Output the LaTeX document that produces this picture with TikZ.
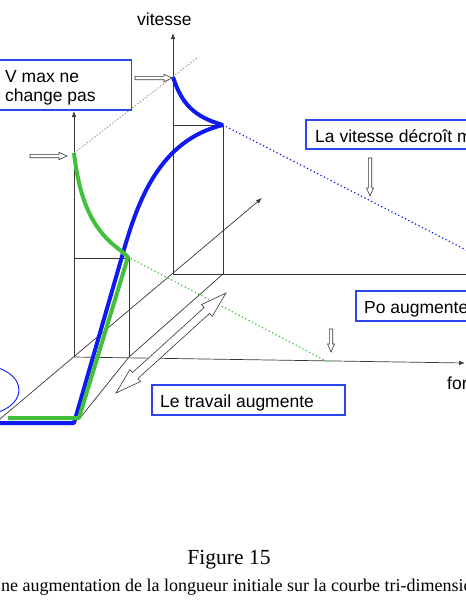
\documentclass[tikz,border=0pt]{standalone}
\usepackage{fontspec}
\setmainfont{Liberation Sans}
\newfontfamily\capfont{Liberation Serif}
\usetikzlibrary{arrows.meta}
\definecolor{cblue}{RGB}{14,26,240}
\definecolor{cgreen}{RGB}{66,192,58}
\definecolor{bblue}{RGB}{44,72,236}
\definecolor{axisgray}{RGB}{55,55,55}
\begin{document}
\begin{tikzpicture}[x=1pt,y=-1pt,
  thinl/.style={draw=axisgray, line width=0.7pt},
  axisarrow/.style={thinl, -{Latex[length=6pt,width=4.5pt]}},
  bluecurve/.style={draw=cblue, line width=4pt, line join=round},
  greencurve/.style={draw=cgreen, line width=4pt, line join=round},
  bluedots/.style={draw=cblue, line width=1.7pt, line cap=round, dash pattern=on 0pt off 3.8pt},
  greendots/.style={draw=cgreen, line width=1.7pt, line cap=round, dash pattern=on 0pt off 3.8pt},
  fine dash/.style={draw=gray, line width=0.6pt, dash pattern=on 1.6pt off 1.6pt},
  labelbox/.style={draw=bblue, line width=1.3pt, fill=white, inner sep=0pt},
  hollow/.style={draw=axisgray, line width=0.6pt, fill=white, line join=miter},
  lbl/.style={font=\fontsize{17.5}{20}\selectfont, inner sep=0pt, anchor=base west}
]
\useasboundingbox (0,0) rectangle (466,600);
\clip (0,0) rectangle (466,600);

% ---- named points
\coordinate (F0) at (74,357);
\coordinate (Ftop) at (74,111);
\coordinate (F1) at (129,357);
\coordinate (Fm0) at (74,258);
\coordinate (Fm1) at (129,258);
\coordinate (B0) at (173,274);
\coordinate (Btop) at (173,33);
\coordinate (B1) at (223,274);
\coordinate (Bm0) at (173,125);
\coordinate (Bm1) at (223,125);
\coordinate (D0) at (0,419);
\coordinate (Dend) at (262,198);
\coordinate (Xend) at (465,363);
\coordinate (Bright) at (470,274);
\coordinate (L0) at (80,418);
\coordinate (Vmax) at (173,77);
\coordinate (Gtop) at (74,153);
\coordinate (DashEnd) at (197,58);
\coordinate (Gk) at (128,257);
\coordinate (Gb) at (79,418);
\coordinate (Gl) at (8,418);
\coordinate (Bl0) at (-2,423);
\coordinate (Bl1) at (74,423);
\coordinate (Bl2) at (123,253);
\coordinate (BdotEnd) at (470,252);
\coordinate (GdotEnd) at (328,362);

% ---- frame lines
\draw[axisarrow] (B0) -- (Btop);
\draw[axisarrow] (F0) -- (Ftop);
\draw[axisarrow] (D0) -- (Dend);
\draw[axisarrow] (F0) -- (Xend);
\draw[thinl] (B0) -- (Bright);
\draw[thinl] (Bm0) -- (Bm1) -- (B1);
\draw[thinl] (Fm0) -- (Fm1) -- (F1);
\draw[thinl] (L0) -- (F1) -- (B1);
\draw[fine dash] (Gtop) -- (DashEnd);

% ---- dotted projections
\draw[bluedots] (Bm1) -- (BdotEnd);
\draw[greendots] (Gk) -- (GdotEnd);

% ---- curves
\draw[bluecurve] (Bl0) -- (Bl1) -- (Bl2) .. controls (138,200) and (160,140) .. (Bm1);
\draw[bluecurve] (Vmax) .. controls (182,105) and (195,117) .. (Bm1);
\draw[greencurve] (Gl) -- (Gb) -- (Gk) -- (120,250) .. controls (95,232) and (80,205) .. (Gtop);

% ---- ellipse
\draw[cblue, line width=0.9pt] (-20,390) ellipse [x radius=39, y radius=25];

% ---- hollow arrows
\draw[hollow] (30,154.3) -- (59,154.3) -- (59,152.3) -- (67,156) -- (59,159.7) -- (59,157.7) -- (30,157.7) -- cycle;
\draw[hollow] (135,76.3) -- (164,76.3) -- (164,74.3) -- (172,78) -- (164,81.7) -- (164,79.7) -- (135,79.7) -- cycle;
\draw[hollow] (368.3,158) -- (368.3,188) -- (366.5,188) -- (370,196) -- (373.5,188) -- (371.7,188) -- (371.7,158) -- cycle;
\draw[hollow] (329.3,329) -- (329.3,344) -- (327.5,344) -- (331,352) -- (334.5,344) -- (332.7,344) -- (332.7,329) -- cycle;
\draw[hollow] (116,393) -- (140.62,381.45) -- (137.93,378.49) -- (209.49,313.51) -- (212.18,316.47)
  -- (226,293) -- (201.42,304.63) -- (204.11,307.59) -- (132.55,372.57) -- (129.86,369.61) -- cycle;

% ---- boxes
\node[labelbox, minimum width=139pt, minimum height=50pt] (vmaxbox) at (62,85) {};
\node[labelbox, minimum width=170pt, minimum height=29pt] (vitbox) at (391,134.5) {};
\node[labelbox, minimum width=120pt, minimum height=30pt] (pobox) at (416,306) {};
\node[labelbox, minimum width=193pt, minimum height=30pt] (travbox) at (248.5,400) {};

% ---- texts
\node[lbl] (vit) at (137,25) {vitesse};
\node[lbl] (vm1) at (5,82) {V max ne};
\node[lbl] (vm2) at (5,101) {change pas};
\node[lbl] (vdec) at (315,142) {La vitesse décroît m};
\node[lbl] (poaug) at (364,313) {Po augmente};
\node[lbl] (travaug) at (160,407) {Le travail augmente};
\node[lbl] (force) at (447,389) {for};
\node[inner sep=0pt, anchor=base, font=\capfont\fontsize{21.5}{24}\selectfont] (fig) at (229,564) {Figure 15};
\node[inner sep=0pt, anchor=base west, font=\capfont\fontsize{18}{21}\selectfont] (cap) at (1,591) {ne augmentation de la longueur initiale sur la courbe tri-dimensio};
\end{tikzpicture}
\end{document}
